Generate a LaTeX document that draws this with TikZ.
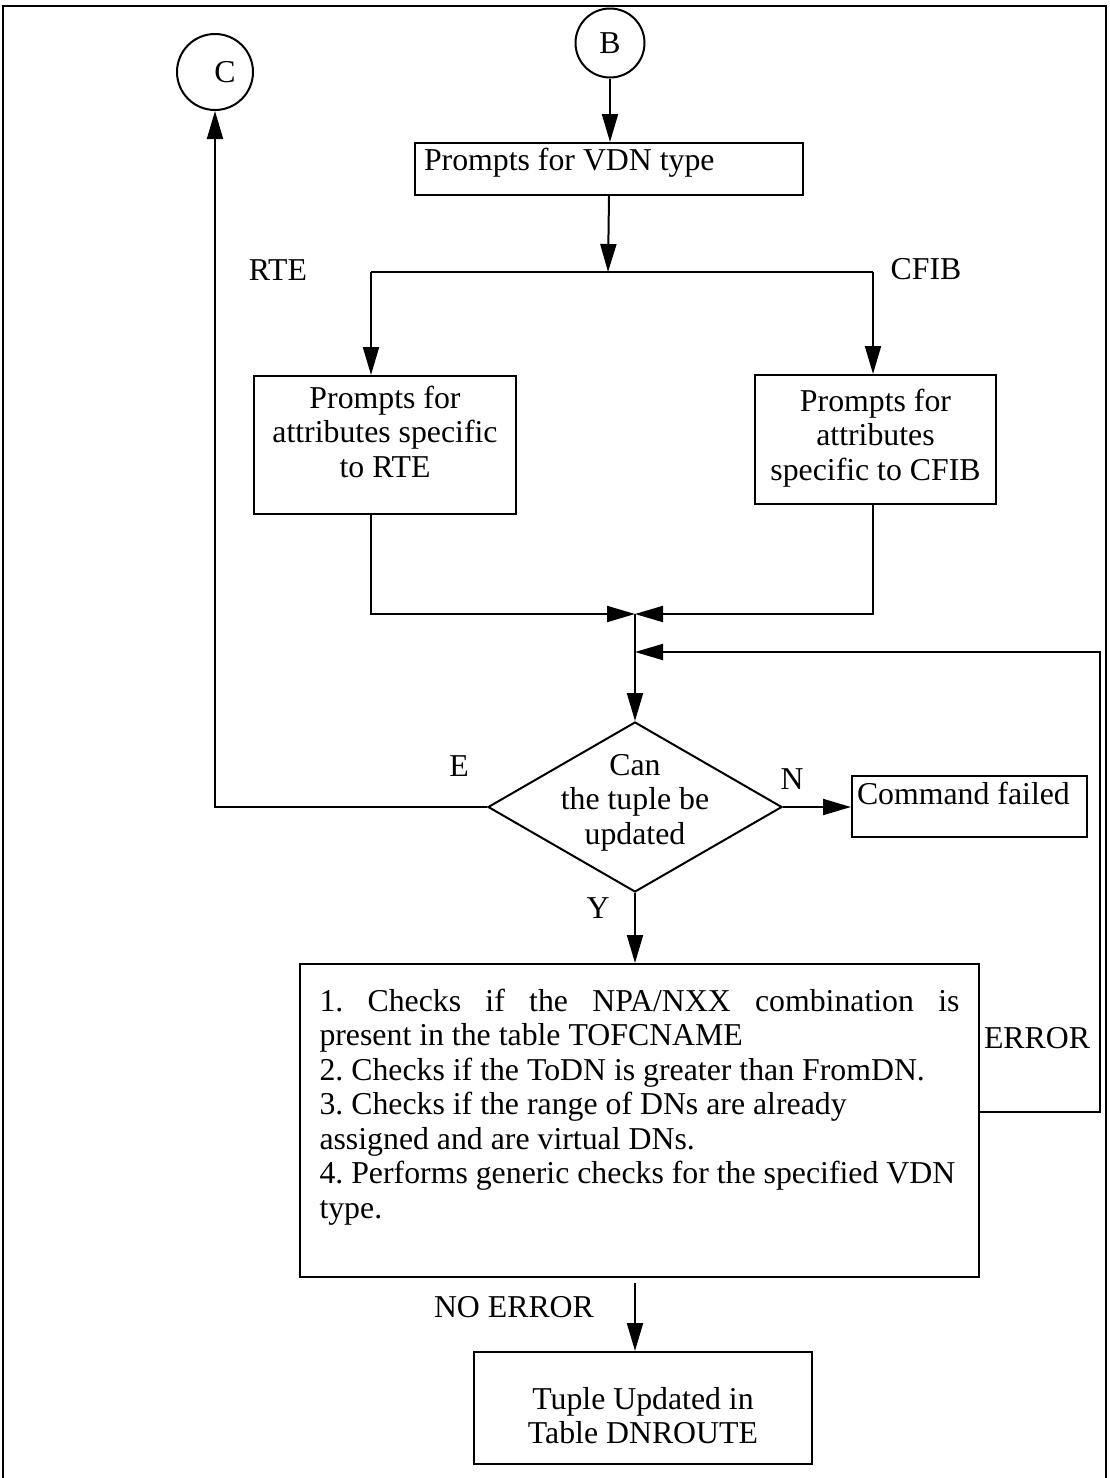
\documentclass[tikz,border=0pt]{standalone}
\usepackage{fontspec}
\setmainfont{Liberation Serif}
\usetikzlibrary{arrows.meta,shapes.geometric}

\begin{document}
\begin{tikzpicture}[
    x=0.5pt, y=-0.5pt,
    line width=1pt,
    every node/.style={font=\fontsize{15.9}{17.25}\selectfont\frenchspacing, inner sep=0pt},
    arrow/.style={-{Triangle[length=14pt, width=8pt]}},
    % Off-page connector circles
    connector/.style={circle, draw},
    % Process boxes (text sits near the top)
    box/.style={rectangle, draw, anchor=north west, inner ysep=0pt},
    % Decision diamond
    decision/.style={diamond, draw, aspect=1.73, minimum width=147pt, minimum height=85pt,
        text width=80pt, align=flush center, text height=3pt, text depth=35pt}
]
\useasboundingbox (0, 0) rectangle (1109, 1478);

% Page frame
\draw (3, 1478) -- (3, 6) -- (1106, 6) -- (1106, 1478);

% Connectors
\node[connector, minimum size=34.5pt] (B) at (610, 43) {B};
\node[connector, minimum size=38pt] (C) at (215, 72) {\hspace{10pt}C};

% Boxes
\node[box, text width=185pt, inner xsep=4.5pt, align=flush left, text height=13.5pt, text depth=12.5pt]
    (Prompt) at (414, 142) {Prompts for VDN type};
\node[box, text width=121pt, inner xsep=5pt, align=flush center, text height=16pt, text depth=53pt]
    (RTE) at (253, 375) {Prompts for\\attributes specific\\to RTE};
\node[box, text width=110.5pt, inner xsep=5pt, align=flush center, text height=18pt, text depth=46.5pt]
    (CFIB) at (754, 374) {Prompts for\\attributes\\specific to CFIB};
\node[decision] (Decide) at (635, 807) {Can\\the tuple be\\updated};
\node[box, text width=112.5pt, inner xsep=2.5pt, align=flush left, text height=14pt, text depth=16.5pt]
    (Failed) at (851, 775) {Command failed};
\node[box, text width=320pt, inner xsep=9.75pt, align=flush left, text height=23.5pt, text depth=133pt]
    (Checks) at (299, 963) {\makebox[320pt][s]{\spaceskip=.25em plus 1fil\relax
    1. Checks if the NPA/NXX combination is}\\
    present in the table TOFCNAME\\
    2. Checks if the ToDN is greater than FromDN.\\
    3. Checks if the range of DNs are already\\
    assigned and are virtual DNs.\\
    4. Performs generic checks for the specified VDN\\
    type.};
\node[box, text width=150pt, inner xsep=9.5pt, align=flush center, text height=28.5pt, text depth=27.5pt]
    (Done) at (473, 1351) {Tuple Updated in\\Table DNROUTE};

% Branch labels
\node[anchor=base east] (rteLabel) at (308, 280) {RTE};
\node[anchor=base] (cfibLabel) at (926, 279) {CFIB};
\node[anchor=base] (eLabel) at (459, 776) {E};
\node[anchor=base] (nLabel) at (792, 789) {N};
\node[anchor=base] (yLabel) at (598, 918) {Y};
\node[anchor=base west] (errLabel) at (983, 1048) {ERROR};
\node[anchor=base west] (okLabel) at (433, 1317) {NO ERROR};

% Junction points
\coordinate (split) at (608, 272);
\coordinate (rteIn) at (371, 272);
\coordinate (cfibIn) at (873, 272);
\coordinate (join) at (635, 614);
\coordinate (loop) at (635, 652);
\coordinate (errTurn) at (1100, 652);

% Flow
\draw[arrow] (B) -- (B |- Prompt.north);
\draw[arrow] (Prompt.south) -- (split);
\draw (rteIn) -- (cfibIn);
\draw[arrow] (rteIn) -- (rteIn |- RTE.north);
\draw[arrow] (cfibIn) -- (cfibIn |- CFIB.north);
\draw[arrow] (rteIn |- RTE.south) |- (join);
\draw[arrow] (cfibIn |- CFIB.south) |- (join);
\draw[arrow] (join) -- (Decide.north);
\draw[arrow] (Decide.west) -| (C);
\draw[arrow] (Decide.east) -- (Decide.east -| Failed.west);
\draw[arrow] (Decide.south) -- (Decide.south |- Checks.north);
\draw[arrow] ([yshift=4.25pt]Checks.east) -| (errTurn) -- (loop);
\draw[arrow] ([yshift=-2.5pt]Checks.south -| Decide.south) -- (Decide.south |- Done.north);

\end{tikzpicture}
\end{document}
